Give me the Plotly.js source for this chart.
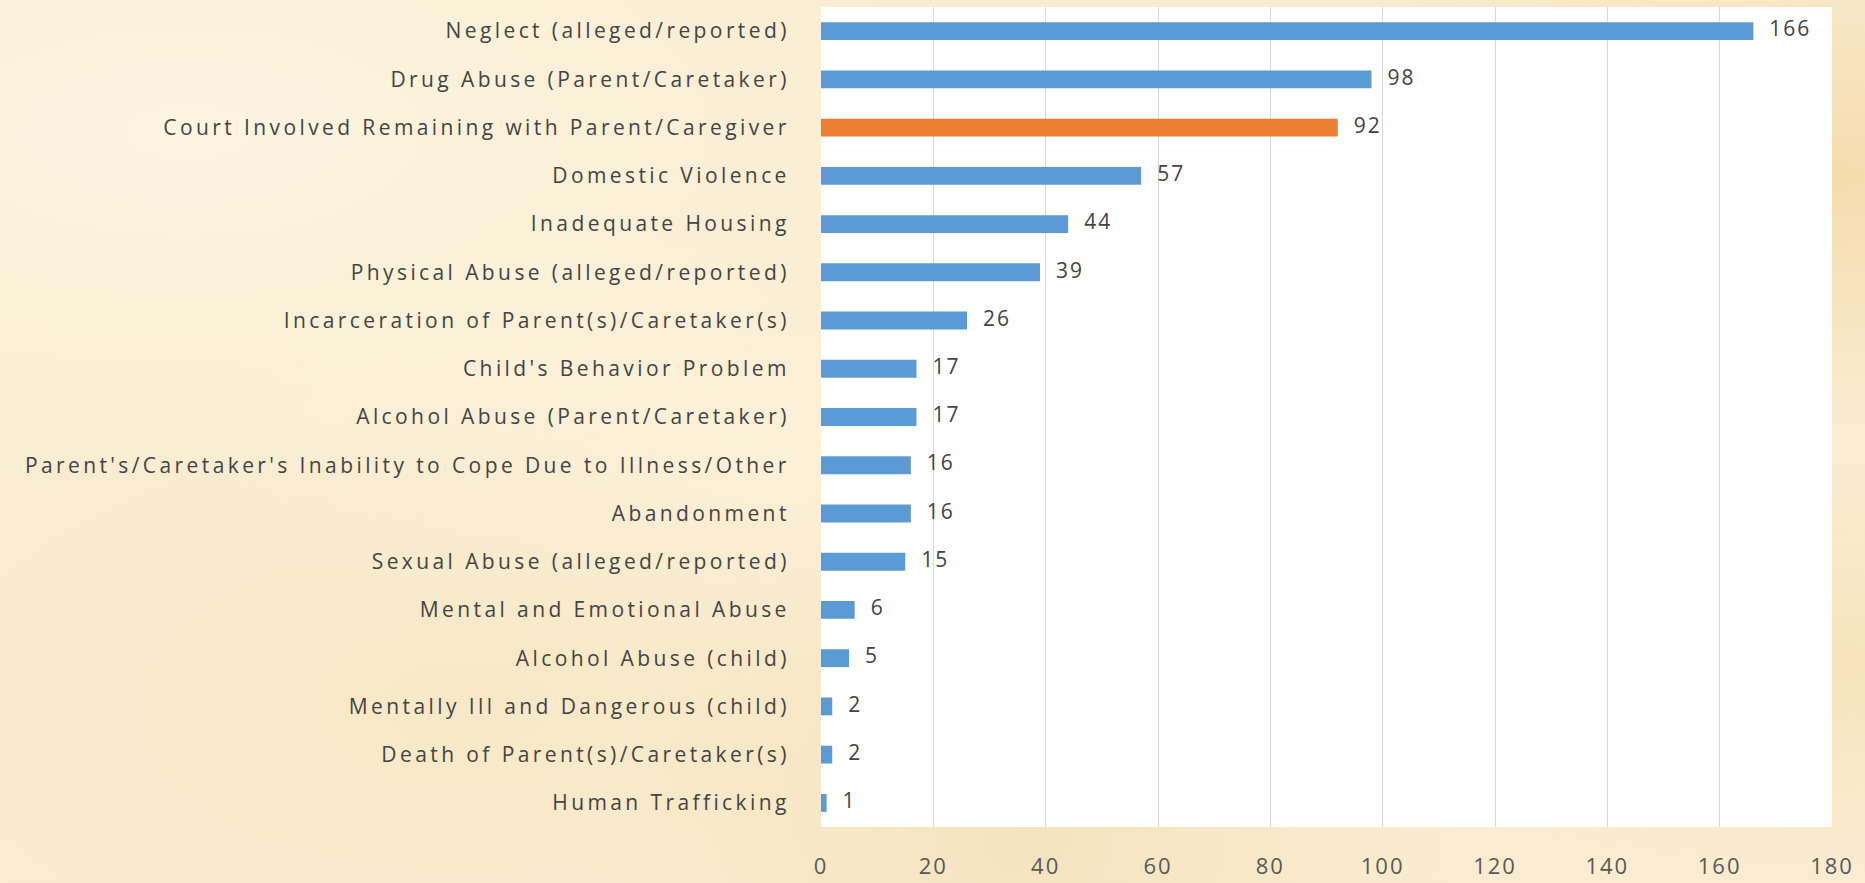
<!DOCTYPE html>
<html>
<head>
<meta charset="utf-8">
<script src="https://cdn.plot.ly/plotly-3.0.1.min.js"></script>
<style>
html,body{margin:0;padding:0;width:1865px;height:883px;overflow:hidden;}
body{background:#f9ecd0;
background-image:
radial-gradient(ellipse at 10% 15%, rgba(255,249,232,0.7), rgba(255,249,232,0) 35%),
radial-gradient(ellipse at 25% 80%, rgba(246,228,190,0.5), rgba(246,228,190,0) 30%),
radial-gradient(ellipse at 55% 95%, rgba(244,222,180,0.6), rgba(244,222,180,0) 30%),
radial-gradient(ellipse at 40% 50%, rgba(255,246,226,0.5), rgba(255,246,226,0) 35%),
radial-gradient(ellipse at 98% 20%, rgba(243,214,160,0.7), rgba(243,214,160,0) 25%),
radial-gradient(ellipse at 98% 75%, rgba(245,222,175,0.6), rgba(245,222,175,0) 22%);}
#chart{width:1865px;height:883px;}
#chart .ytick text{letter-spacing:3.4px;}
#chart .xtick text{letter-spacing:2px;}
#chart .textpoint text{letter-spacing:2px;}
</style>
</head>
<body>
<div id="chart"></div>
<script>
const categories = [
  "Neglect (alleged/reported)",
  "Drug Abuse (Parent/Caretaker)",
  "Court Involved Remaining with Parent/Caregiver",
  "Domestic Violence",
  "Inadequate Housing",
  "Physical Abuse (alleged/reported)",
  "Incarceration of Parent(s)/Caretaker(s)",
  "Child's Behavior Problem",
  "Alcohol Abuse (Parent/Caretaker)",
  "Parent's/Caretaker's Inability to Cope Due to Illness/Other",
  "Abandonment",
  "Sexual Abuse (alleged/reported)",
  "Mental and Emotional Abuse",
  "Alcohol Abuse (child)",
  "Mentally Ill and Dangerous (child)",
  "Death of Parent(s)/Caretaker(s)",
  "Human Trafficking"
];
const counts = [166, 98, 92, 57, 44, 39, 26, 17, 17, 16, 16, 15, 6, 5, 2, 2, 1];
const highlighted = "Court Involved Remaining with Parent/Caregiver";
const xTicks = [0, 20, 40, 60, 80, 100, 120, 140, 160, 180];

const colors = categories.map(c => c === highlighted ? "#ed7d31" : "#5b9bd5");
const FONT = "Open Sans, Noto Sans, sans-serif";

const bars = {
  type: "bar",
  orientation: "h",
  y: categories,
  x: counts,
  marker: {color: colors},
  hoverinfo: "x+y"
};

const labels = {
  type: "scatter",
  mode: "markers+text",
  y: categories,
  x: counts,
  text: counts.map(String),
  textposition: "middle right",
  cliponaxis: false,
  marker: {size: 24, color: "rgba(0,0,0,0)"},
  textfont: {family: FONT, size: 21, color: "#444444"},
  hoverinfo: "skip"
};

const layout = {
  width: 1865,
  height: 883,
  margin: {l: 821, r: 33, t: 7, b: 56},
  paper_bgcolor: "rgba(0,0,0,0)",
  plot_bgcolor: "#ffffff",
  bargap: 0.63,
  showlegend: false,
  font: {family: FONT, size: 21, color: "#444444"},
  xaxis: {
    range: [0, 180],
    tickvals: xTicks,
    ticktext: xTicks.map(String),
    showgrid: true,
    gridcolor: "#d9d9d9",
    gridwidth: 1,
    zeroline: false,
    showline: false,
    ticks: "outside",
    ticklen: 20,
    tickcolor: "rgba(0,0,0,0)",
    tickfont: {family: FONT, size: 22, color: "#595959"},
    fixedrange: true
  },
  yaxis: {
    range: [categories.length - 0.5, -0.5],
    showgrid: false,
    zeroline: false,
    showline: false,
    ticks: "outside",
    ticklen: 26,
    tickcolor: "rgba(0,0,0,0)",
    tickfont: {family: FONT, size: 21, color: "#444444"},
    fixedrange: true
  }
};

Plotly.newPlot("chart", [bars, labels], layout, {displayModeBar: false, staticPlot: true});
</script>
</body>
</html>
